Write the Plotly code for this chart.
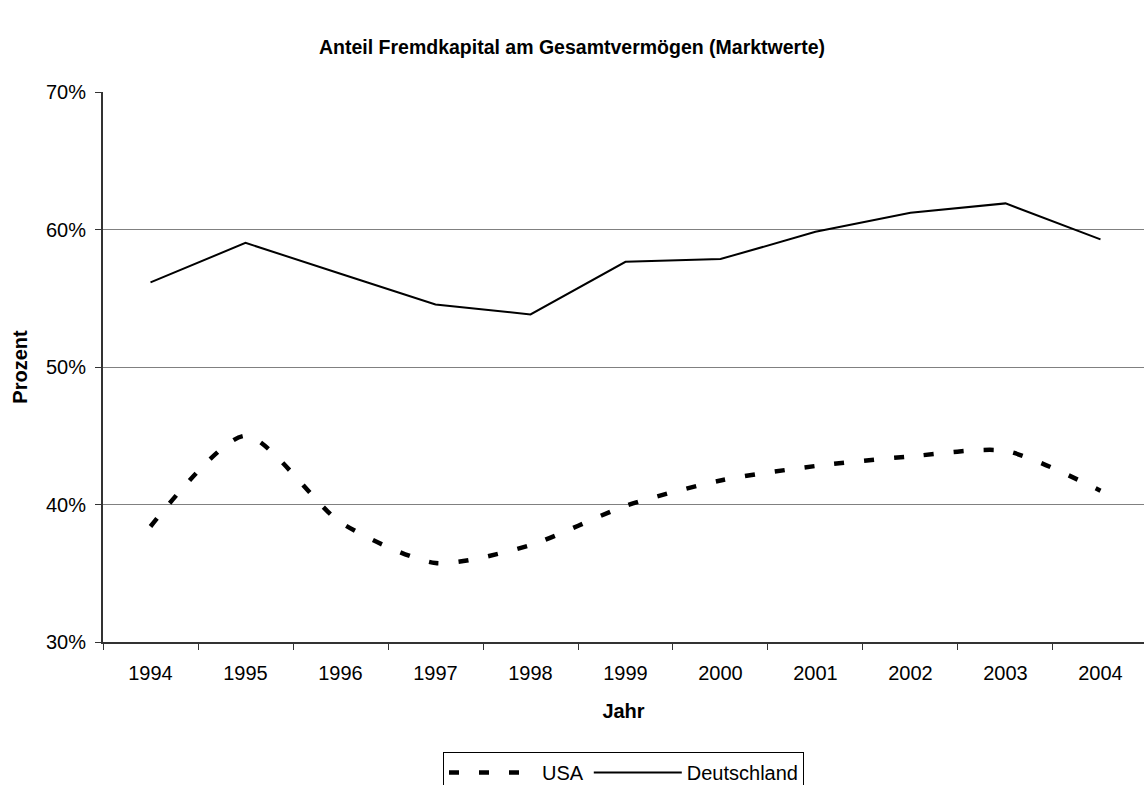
import plotly.graph_objects as go

years = ["1994", "1995", "1996", "1997", "1998", "1999", "2000", "2001", "2002", "2003", "2004"]
usa = [38.4, 45.0, 38.7, 35.75, 37.05, 39.9, 41.75, 42.8, 43.5, 43.9, 41.0]
deutschland = [56.15, 59.03, 56.78, 54.55, 53.82, 57.65, 57.85, 59.83, 61.22, 61.9, 59.28]
y_ticks = [30, 40, 50, 60, 70]
y_tick_labels = ["30%", "40%", "50%", "60%", "70%"]

FONT = "Liberation Sans, Arial, sans-serif"

fig = go.Figure()
fig.add_trace(go.Scatter(
    x=years, y=usa, name="USA", mode="lines",
    line=dict(color="black", width=4.5, dash="10px,20px", shape="spline", smoothing=0.7),
))
fig.add_trace(go.Scatter(
    x=years, y=deutschland, name="Deutschland", mode="lines",
    line=dict(color="black", width=2),
))

fig.update_layout(
    template="none",
    width=1144, height=785,
    paper_bgcolor="white", plot_bgcolor="white",
    margin=dict(l=103, r=0, t=92, b=143, pad=0, autoexpand=False),
    font=dict(family=FONT, size=20, color="black"),
    title=dict(text="<b>Anteil Fremdkapital am Gesamtvermögen (Marktwerte)</b>",
               x=0.5, xref="container", xanchor="center", y=1 - 47 / 785, yref="container",
               yanchor="middle",
               font=dict(size=19.5, family=FONT, color="black")),
    showlegend=True,
    legend=dict(orientation="h", x=0.5, xanchor="center", y=-(752 - 642) / 550, yanchor="top",
                bordercolor="black", borderwidth=1, bgcolor="white",
                font=dict(size=20, family=FONT), itemwidth=88,
                tracegroupgap=0),
)

fig.update_xaxes(
    type="category", range=[-0.5, 10.458], automargin=False,
    showline=True, linecolor="#333333", linewidth=2,
    ticks="outside", tickson="boundaries", ticklen=6, tickcolor="#333333", tickwidth=1,
    ticklabelstandoff=12,
    showgrid=False, zeroline=False,
    title=dict(text="<b>Jahr</b>", font=dict(size=20, family=FONT), standoff=21),
    tickfont=dict(size=20, family=FONT),
)
fig.update_yaxes(
    range=[30, 70], tickvals=y_ticks, ticktext=y_tick_labels, automargin=False,
    showline=True, linecolor="#333333", linewidth=2,
    ticks="outside", ticklen=6, tickcolor="#333333", tickwidth=1,
    ticklabelstandoff=5,
    showgrid=True, gridcolor="#808080", gridwidth=1.3, zeroline=False,
    title=dict(text="<b>Prozent</b>", font=dict(size=20, family=FONT), standoff=13),
    tickfont=dict(size=20, family=FONT),
)

fig.write_html("out.html", config={"displayModeBar": False},
               post_script="document.body.style.margin='0';document.body.style.overflow='hidden';")
